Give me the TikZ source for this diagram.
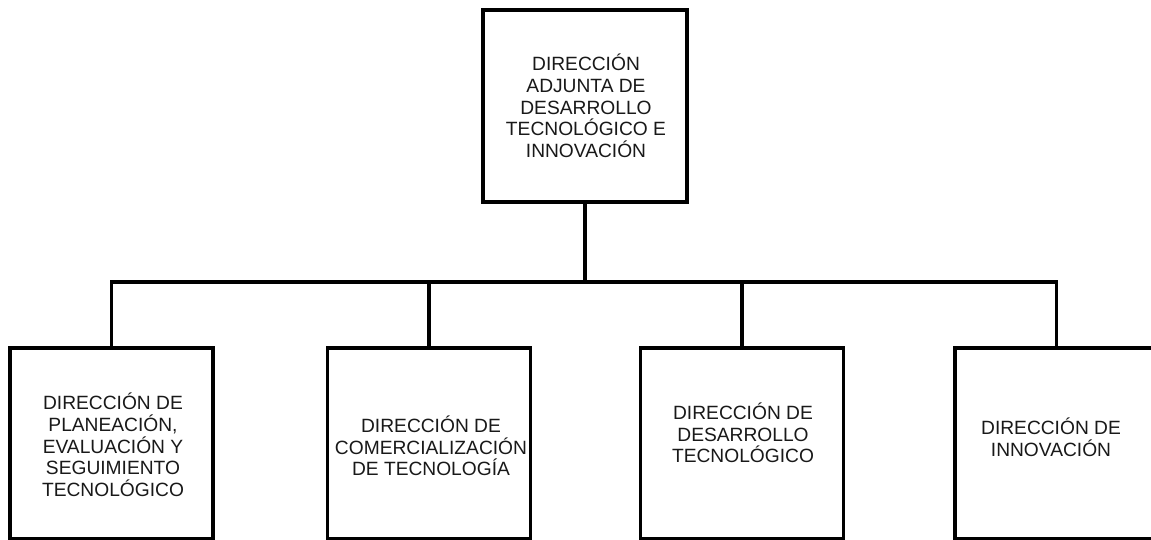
\documentclass[tikz,border=0pt]{standalone}
\usepackage{fontspec}
\setmainfont{Liberation Sans}
\begin{document}
\begin{tikzpicture}[x=1pt,y=-1pt,
  box/.style={draw, line width=3.2pt, minimum width=203pt, minimum height=191pt, inner sep=0pt},
  lbl/.style={align=center, font=\fontsize{19.2}{21.7}\selectfont, inner sep=0pt, text=black!90},
  conn/.style={line width=3.2pt}]
\useasboundingbox (0,0) rectangle (1151,540);
\clip (0,0) rectangle (1151,540);
\fill[white] (0,0) rectangle (1151,540);
% top box
\node[box, minimum width=204pt, minimum height=192pt] (top) at (585,106) {};
\node[lbl] (toptext) at (586,106) {DIRECCIÓN\\ADJUNTA DE\\DESARROLLO\\TECNOLÓGICO E\\INNOVACIÓN};
% bottom boxes
\node[box] (b1) at (111.5,443.5) {};
\node[box] (b2) at (429,443.5) {};
\node[box] (b3) at (742,443.5) {};
\node[box] (b4) at (1056.5,443.5) {};
\node[lbl] (t1) at (113,445) {DIRECCIÓN DE\\PLANEACIÓN,\\EVALUACIÓN Y\\SEGUIMIENTO\\TECNOLÓGICO};
\node[lbl] (t2) at (431,446) {DIRECCIÓN DE\\COMERCIALIZACIÓN\\DE TECNOLOGÍA};
\node[lbl] (t3) at (743,433) {DIRECCIÓN DE\\DESARROLLO\\TECNOLÓGICO};
\node[lbl] (t4) at (1051,437) {DIRECCIÓN DE\\INNOVACIÓN};
% connectors
\coordinate (bus) at (586,282);
\draw[conn] (top.south) -- (top.south |- bus);
\draw[conn] (b1.north) -- (b1.north |- bus) -- (b4.north |- bus) -- (b4.north);
\draw[conn] (b2.north) -- (b2.north |- bus);
\draw[conn] (b3.north) -- (b3.north |- bus);
\end{tikzpicture}
\end{document}
